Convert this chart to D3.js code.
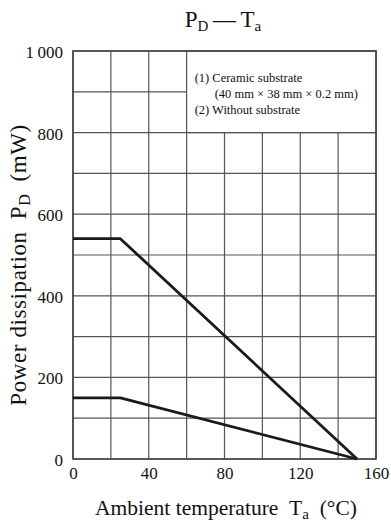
<!DOCTYPE html>
<meta charset="utf-8">
<style>
html, body { margin: 0; background: #fff; }
svg { display: block; font-family: "Liberation Serif", "Times New Roman", serif; }
.grid line { stroke: #555; stroke-width: 1.2px; }
.axis text { font-size: 17px; fill: #111; font-family: "Liberation Serif", "Times New Roman", serif; }
.axis path, .axis line { display: none; }
</style>
<body>
<svg id="chart" width="391" height="524"></svg>
<script src="https://cdn.jsdelivr.net/npm/d3@7"></script>
<script>

// data
var ceramicTemp = [0, 25, 150]
var ceramicPower = [540, 540, 0]
var bareTemp = [0, 25, 150]
var barePower = [150, 150, 0]

var xGridTicks = [0, 20, 40, 60, 80, 100, 120, 140, 160]
var yGridTicks = [0, 100, 200, 300, 400, 500, 600, 700, 800, 900, 1000]
var xLabelTicks = [0, 40, 80, 120, 160]
var yLabelTicks = [0, 200, 400, 600, 800, 1000]
var legendLines = ["(1) Ceramic substrate", "(40 mm \u00d7 38 mm \u00d7 0.2 mm)", "(2) Without substrate"]

var svg = d3.select("#chart")
var plotLeft = 73, plotRight = 376, plotTop = 51, plotBottom = 459

var x = d3.scaleLinear().domain([0, 160]).range([plotLeft, plotRight])
var y = d3.scaleLinear().domain([0, 1000]).range([plotBottom, plotTop])

// grid
var grid = svg.append("g").attr("class", "grid")
grid.selectAll(".vx").data(xGridTicks).enter().append("line")
    .attr("x1", function(d) { return x(d) }).attr("x2", function(d) { return x(d) })
    .attr("y1", y(0)).attr("y2", y(1000))
grid.selectAll(".hy").data(yGridTicks).enter().append("line")
    .attr("x1", x(0)).attr("x2", x(160))
    .attr("y1", function(d) { return y(d) }).attr("y2", function(d) { return y(d) })

// legend box covers the grid in the top right corner
svg.append("rect")
    .attr("x", x(60)).attr("y", y(1000))
    .attr("width", x(160) - x(60)).attr("height", y(800) - y(1000))
    .attr("fill", "#fff").attr("stroke", "#555").attr("stroke-width", 1.2)

var legend = svg.append("g").attr("font-size", 12.5).attr("fill", "#111")
legend.selectAll("text").data(legendLines).enter().append("text")
    .attr("x", function(d, i) { return i == 1 ? x(60) + 28 : x(60) + 8 })
    .attr("y", function(d, i) { return y(1000) + 31 + i * 16 })
    .text(function(d) { return d })

// frame
svg.append("rect")
    .attr("x", x(0)).attr("y", y(1000))
    .attr("width", x(160) - x(0)).attr("height", y(0) - y(1000))
    .attr("fill", "none").attr("stroke", "#444").attr("stroke-width", 1.6)

// axes (labels only)
svg.append("g").attr("class", "axis")
    .attr("transform", "translate(" + (x(0) - 4) + ",1)")
    .call(d3.axisLeft(y).tickValues(yLabelTicks).tickSize(0).tickPadding(6)
      .tickFormat(function(d) { return d >= 1000 ? "1\u2009000" : d }))
svg.append("g").attr("class", "axis")
    .attr("transform", "translate(0," + (y(0) + 4) + ")")
    .call(d3.axisBottom(x).tickValues(xLabelTicks).tickSize(0).tickPadding(4))

// curves
var line = d3.line().x(function(d) { return x(d[0]) }).y(function(d) { return y(d[1]) })
var curves = [d3.zip(ceramicTemp, ceramicPower), d3.zip(bareTemp, barePower)]
svg.append("g").selectAll("path").data(curves).enter().append("path")
    .attr("d", line)
    .attr("fill", "none").attr("stroke", "#1a1a1a").attr("stroke-width", 2.8)
    .attr("stroke-linejoin", "round")

// title
var title = svg.append("text").attr("x", 223).attr("y", 27)
    .attr("text-anchor", "middle").attr("font-size", 23).attr("fill", "#111")
title.append("tspan").text("P")
title.append("tspan").attr("font-size", 15).attr("dy", 4).text("D")
title.append("tspan").attr("dy", -4).text("\u2009\u2014\u2009T")
title.append("tspan").attr("font-size", 15).attr("dy", 4).text("a")

// x label
var xl = svg.append("text").attr("x", 226).attr("y", 515)
    .attr("text-anchor", "middle").attr("font-size", 21.5).attr("fill", "#111")
xl.append("tspan").text("Ambient temperature\u2002T")
xl.append("tspan").attr("font-size", 15).attr("dy", 4).text("a")
xl.append("tspan").attr("dy", -4).text("\u2002(\u00b0C)")

// y label
var yl = svg.append("text")
    .attr("transform", "translate(26," + 265 + ") rotate(-90)")
    .attr("text-anchor", "middle").attr("font-size", 23).attr("fill", "#111")
    .attr("letter-spacing", 0.6)
yl.append("tspan").text("Power dissipation\u2002P")
yl.append("tspan").attr("font-size", 16).attr("dy", 4).text("D")
yl.append("tspan").attr("dy", -4).text("\u2002(mW)")

</script>
</body>
